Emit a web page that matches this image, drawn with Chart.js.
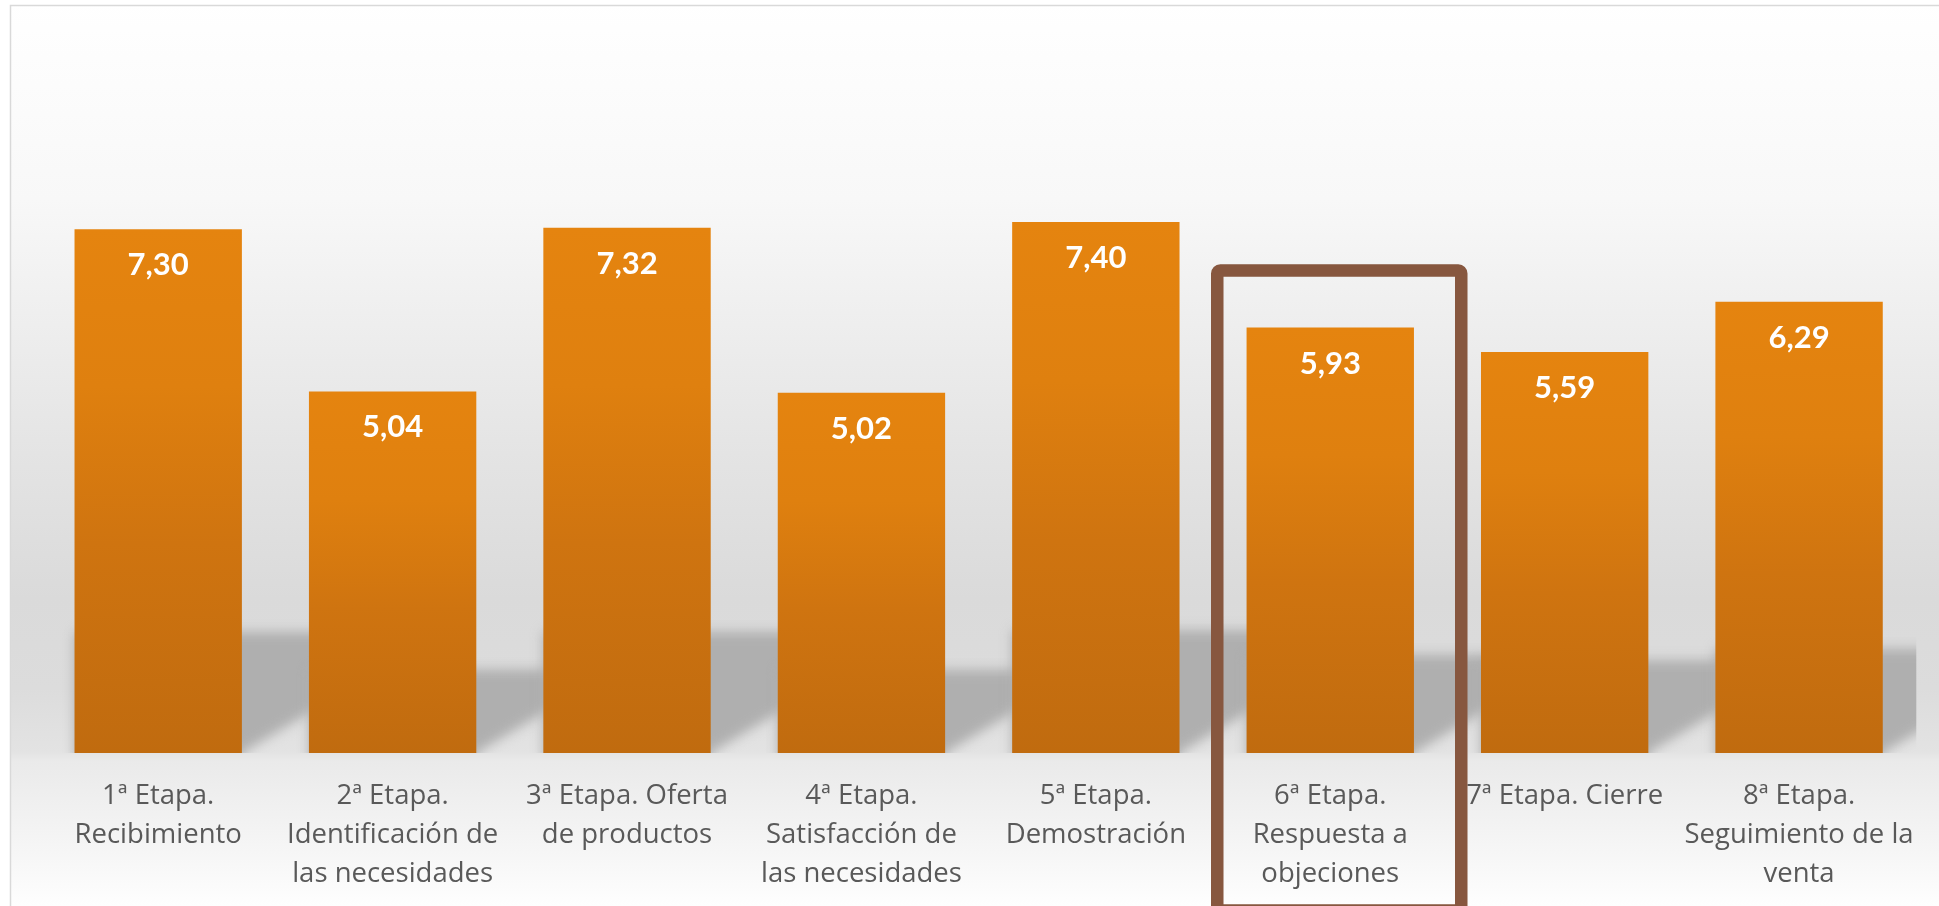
<!DOCTYPE html>
<html>
<head>
<meta charset="utf-8">
<script src="https://cdn.jsdelivr.net/npm/chart.js@4"></script>
<style>
  html, body { margin: 0; padding: 0; background: #fff; }
  canvas { display: block; }
</style>
</head>
<body>
<canvas id="chartEtapas" width="1939" height="906"></canvas>
<script>
const etapas = [
  ['1ª Etapa.', 'Recibimiento'],
  ['2ª Etapa.', 'Identificación de', 'las necesidades'],
  ['3ª Etapa. Oferta', 'de productos'],
  ['4ª Etapa.', 'Satisfacción de', 'las necesidades'],
  ['5ª Etapa.', 'Demostración'],
  ['6ª Etapa.', 'Respuesta a', 'objeciones'],
  ['7ª Etapa. Cierre'],
  ['8ª Etapa.', 'Seguimiento de la', 'venta']
];
const notas = [7.30, 5.04, 7.32, 5.02, 7.40, 5.93, 5.59, 6.29];
const destacada = 5; // 6ª Etapa, recuadrada

const fmt = v => v.toFixed(2).replace('.', ',');

// fondo degradado + marco
const fondo = {
  id: 'fondo',
  beforeDraw(chart) {
    const { ctx, width, height } = chart;
    ctx.save();
    ctx.fillStyle = '#fff';
    ctx.fillRect(0, 0, width, height);
    const g = ctx.createLinearGradient(0, 0, 0, height);
    g.addColorStop(0, '#ffffff');
    g.addColorStop(0.22, '#f8f8f8');
    g.addColorStop(0.33, '#f0f0f0');
    g.addColorStop(0.5, '#e4e4e4');
    g.addColorStop(0.66, '#dadada');
    g.addColorStop(0.76, '#dcdcdc');
    g.addColorStop(0.83, '#e3e3e3');
    g.addColorStop(0.84, '#eaeaea');
    g.addColorStop(0.94, '#f6f6f6');
    g.addColorStop(1, '#fefefe');
    ctx.fillStyle = g;
    ctx.fillRect(11, 6, width - 11, height - 6);
    ctx.strokeStyle = '#d9d9d9';
    ctx.lineWidth = 1.5;
    ctx.beginPath();
    ctx.moveTo(10.5, height);
    ctx.lineTo(10.5, 5.5);
    ctx.lineTo(width, 5.5);
    ctx.stroke();
    ctx.restore();
  }
};

// sombra en perspectiva detras de cada barra
const sombras = {
  id: 'sombras',
  beforeDatasetsDraw(chart) {
    const { ctx, chartArea } = chart;
    const bars = chart.getDatasetMeta(0).data;
    ctx.save();
    ctx.beginPath();
    ctx.rect(chartArea.left, chartArea.top, chartArea.right - chartArea.left, chartArea.bottom - chartArea.top);
    ctx.clip();
    ctx.filter = 'blur(6px)';
    ctx.fillStyle = '#afafaf';
    bars.forEach(b => {
      const L = b.x - b.width / 2, R = b.x + b.width / 2;
      const hs = (b.base - b.y) * 0.231;
      const dx = hs * 1.67;
      ctx.beginPath();
      ctx.moveTo(L, b.base + 10);
      ctx.lineTo(R, b.base + 10);
      ctx.lineTo(R, b.base);
      ctx.lineTo(R + dx, b.base - hs);
      ctx.lineTo(L, b.base - hs);
      ctx.closePath();
      ctx.fill();
    });
    ctx.restore();
  }
};

// etiquetas de valor y recuadro
const etiquetas = {
  id: 'etiquetas',
  afterDatasetsDraw(chart) {
    const { ctx } = chart;
    const bars = chart.getDatasetMeta(0).data;
    ctx.save();
    ctx.fillStyle = '#ffffff';
    ctx.font = 'bold 31px Lato';
    ctx.textAlign = 'center';
    ctx.textBaseline = 'middle';
    bars.forEach((b, i) => ctx.fillText(fmt(notas[i]), b.x, b.y + 36));

    const x = chart.scales.x;
    const cx = x.getPixelForValue(destacada) + 9;
    ctx.strokeStyle = '#87573f';
    ctx.lineWidth = 12.5;
    ctx.lineJoin = 'round';
    ctx.beginPath();
    ctx.roundRect(cx - 122, 270.5, 244, 640, 3);
    ctx.stroke();
    ctx.restore();
  }
};

const barColor = (context) => {
  const chart = context.chart;
  const y = chart.scales && chart.scales.y;
  if (!y || !chart.chartArea) return '#d87a10';
  const top = y.getPixelForValue(notas[context.dataIndex]);
  const base = y.getPixelForValue(0);
  const g = chart.ctx.createLinearGradient(0, top, 0, base);
  g.addColorStop(0, '#e5840f');
  g.addColorStop(0.3, '#df800f');
  g.addColorStop(0.6, '#cf7410');
  g.addColorStop(1, '#c06b0f');
  return g;
};

new Chart(document.getElementById('chartEtapas'), {
  type: 'bar',
  data: {
    labels: etapas,
    datasets: [{
      data: notas,
      backgroundColor: barColor,
      borderWidth: 0,
      barPercentage: 0.714,
      categoryPercentage: 1
    }]
  },
  options: {
    responsive: false,
    animation: false,
    layout: { padding: { left: 41, right: 22, top: 179, bottom: 0 } },
    scales: {
      y: { display: false, min: 0, max: 8 },
      x: {
        grid: { display: false, drawTicks: false },
        border: { display: false },
        ticks: {
          padding: 24,
          color: '#595959',
          font: { family: 'Open Sans', size: 27.5, lineHeight: '39px' },
          maxRotation: 0,
          autoSkip: false
        },
        afterFit(scale) { scale.height = 153; }
      }
    },
    plugins: { legend: { display: false }, tooltip: { enabled: false } }
  },
  plugins: [fondo, sombras, etiquetas]
});
</script>
</body>
</html>
